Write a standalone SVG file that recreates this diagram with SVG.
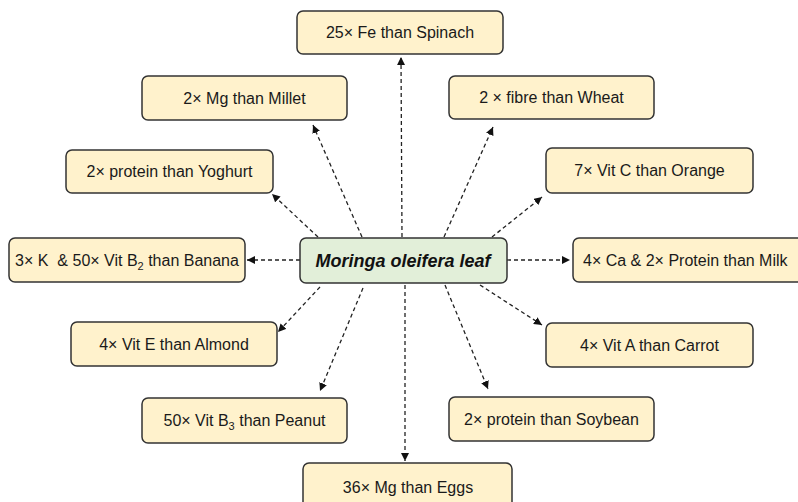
<svg xmlns="http://www.w3.org/2000/svg" width="798" height="502" viewBox="0 0 798 502">
<defs>
<style>
.box{fill:#FFF2CC;stroke:#333333;stroke-width:1.5}
.ctr{fill:#E2EFD9;stroke:#333333;stroke-width:1.5}
.t{font-family:"Liberation Sans",Arial,sans-serif;font-size:16px;fill:#1a1a1a;text-anchor:middle;white-space:pre}
.tc{font-family:"Liberation Sans",Arial,sans-serif;font-size:18px;font-weight:bold;font-style:italic;fill:#111;text-anchor:middle}
.sub{font-size:11px}
.c{stroke:#222;stroke-width:1.3;stroke-dasharray:4 3;fill:none;marker-end:url(#ah)}
</style>
<marker id="ah" markerUnits="userSpaceOnUse" markerWidth="9" markerHeight="8" refX="8" refY="4" orient="auto">
<path d="M0,0 L8,4 L0,8 z" fill="#111"/>
</marker>
</defs>
<rect width="798" height="502" fill="#ffffff"/>
<g id="connectors">
<line class="c" x1="402" y1="237" x2="401" y2="57"/>
<line class="c" x1="362" y1="237" x2="313" y2="125"/>
<line class="c" x1="444" y1="237" x2="493" y2="127"/>
<line class="c" x1="318" y1="237" x2="272" y2="194"/>
<line class="c" x1="492" y1="237" x2="542" y2="197"/>
<line class="c" x1="300" y1="260" x2="247" y2="260"/>
<line class="c" x1="507" y1="260" x2="570" y2="260"/>
<line class="c" x1="320" y1="287" x2="278" y2="332"/>
<line class="c" x1="363" y1="288" x2="320" y2="391"/>
<line class="c" x1="405" y1="285" x2="405" y2="461"/>
<line class="c" x1="445" y1="285" x2="488" y2="389"/>
<line class="c" x1="480" y1="285" x2="542" y2="325"/>
</g>
<g id="center">
<rect class="ctr" x="300" y="238" width="207" height="45" rx="6"/>
<text class="tc" x="403" y="267">Moringa oleifera leaf</text>
</g>
<g id="spinach">
<rect class="box" x="297" y="11" width="206" height="43" rx="6"/>
<text class="t" x="400" y="38">25× Fe than Spinach</text>
</g>
<g id="millet">
<rect class="box" x="142" y="76" width="205" height="44" rx="6"/>
<text class="t" x="244.5" y="104">2× Mg than Millet</text>
</g>
<g id="wheat">
<rect class="box" x="449" y="76" width="205" height="43" rx="6"/>
<text class="t" x="551.5" y="103">2 × fibre than Wheat</text>
</g>
<g id="yoghurt">
<rect class="box" x="66" y="150" width="207" height="43" rx="6"/>
<text class="t" x="169.5" y="177">2× protein than Yoghurt</text>
</g>
<g id="orange">
<rect class="box" x="546" y="148" width="207" height="45" rx="6"/>
<text class="t" x="649.5" y="176">7× Vit C than Orange</text>
</g>
<g id="banana">
<rect class="box" x="9" y="238" width="236" height="44" rx="6"/>
<text class="t" x="127" y="266">3× K  &amp; 50× Vit B<tspan class="sub" dy="4">2</tspan><tspan dy="-4"> than Banana</tspan></text>
</g>
<g id="milk">
<rect class="box" x="573" y="238" width="240" height="44" rx="6"/>
<text class="t" x="583" y="266" style="text-anchor:start">4× Ca &amp; 2× Protein than Milk</text>
</g>
<g id="almond">
<rect class="box" x="71" y="322" width="206" height="44" rx="6"/>
<text class="t" x="174" y="350">4× Vit E than Almond</text>
</g>
<g id="carrot">
<rect class="box" x="546" y="323" width="207" height="44" rx="6"/>
<text class="t" x="649.5" y="351">4× Vit A than Carrot</text>
</g>
<g id="peanut">
<rect class="box" x="142" y="398" width="205" height="45" rx="6"/>
<text class="t" x="244.5" y="426">50× Vit B<tspan class="sub" dy="4">3</tspan><tspan dy="-4"> than Peanut</tspan></text>
</g>
<g id="soybean">
<rect class="box" x="449" y="397" width="205" height="44" rx="6"/>
<text class="t" x="551.5" y="425">2× protein than Soybean</text>
</g>
<g id="eggs">
<rect class="box" x="303" y="463" width="209" height="50" rx="6"/>
<text class="t" x="408" y="493">36× Mg than Eggs</text>
</g>
</svg>
